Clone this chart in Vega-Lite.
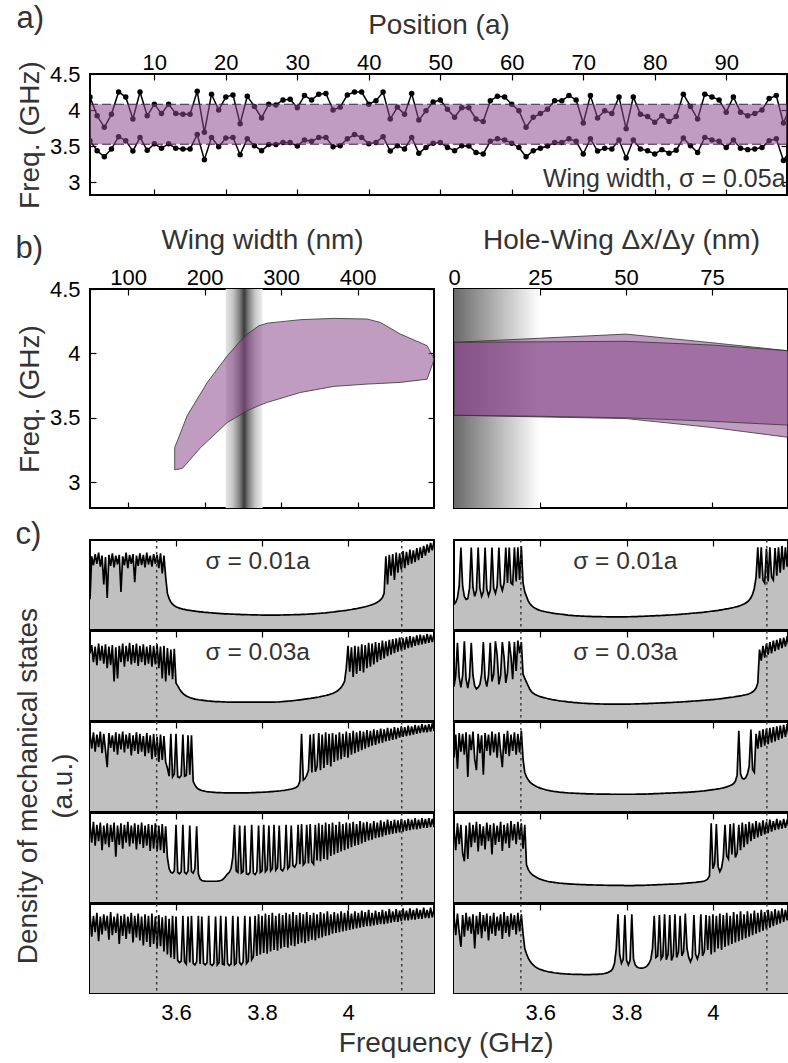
{
"$schema":"https://vega.github.io/schema/vega-lite/v6.json",
"padding":{"left":15,"top":2,"right":0,"bottom":0},
"config":{
"font":"Liberation Sans",
"view":{"stroke":"#000","strokeWidth":2},
"axis":{"domain":false,"grid":false,"tickColor":"#000","tickSize":-6,"tickWidth":1.2,"labelFontSize":22,"labelColor":"#000","labelPadding":6,"labelFlush":false,"labelOverlap":false,"titleFontSize":28,"titleFontWeight":"normal","titleColor":"#333","minExtent":0},
"axisLeft":{"labelPadding":16,"titlePadding":5},
"axisTop":{"labelPadding":6,"titlePadding":12},
"axisBottom":{"labelPadding":15},
"title":{"fontWeight":"normal","color":"#333","fontSize":31}
},
"datasets":{
"pos":[
{"p":1,"u":4.18,"l":3.574},{"p":2,"u":3.92,"l":3.435},{"p":3,"u":3.76,"l":3.35},{"p":4,"u":3.94,"l":3.46},{"p":5,"u":4.25,"l":3.63},{"p":6,"u":4.18,"l":3.574},{"p":7,"u":3.875,"l":3.43},{"p":8,"u":4.25,"l":3.62},{"p":9,"u":3.92,"l":3.44},{"p":10,"u":4.08,"l":3.53},
{"p":11,"u":3.95,"l":3.47},{"p":12,"u":4.08,"l":3.53},{"p":13,"u":3.95,"l":3.47},{"p":14,"u":3.94,"l":3.46},{"p":15,"u":3.94,"l":3.46},{"p":16,"u":4.26,"l":3.66},{"p":17,"u":3.69,"l":3.31},{"p":18,"u":4.22,"l":3.62},{"p":19,"u":4.0,"l":3.49},{"p":20,"u":4.18,"l":3.61},
{"p":21,"u":4.21,"l":3.62},{"p":22,"u":3.81,"l":3.38},{"p":23,"u":4.19,"l":3.6},{"p":24,"u":4.05,"l":3.505},{"p":25,"u":3.89,"l":3.435},{"p":26,"u":4.08,"l":3.52},{"p":27,"u":4.07,"l":3.52},{"p":28,"u":4.14,"l":3.55},{"p":29,"u":4.15,"l":3.55},{"p":30,"u":4.03,"l":3.5},
{"p":31,"u":4.2,"l":3.585},{"p":32,"u":4.14,"l":3.565},{"p":33,"u":4.22,"l":3.62},{"p":34,"u":4.23,"l":3.62},{"p":35,"u":4.0,"l":3.49},{"p":36,"u":4.04,"l":3.505},{"p":37,"u":4.21,"l":3.6},{"p":38,"u":4.25,"l":3.66},{"p":39,"u":4.25,"l":3.62},{"p":40,"u":4.08,"l":3.53},
{"p":41,"u":4.13,"l":3.55},{"p":42,"u":4.25,"l":3.63},{"p":43,"u":3.875,"l":3.43},{"p":44,"u":4.04,"l":3.505},{"p":45,"u":3.94,"l":3.46},{"p":46,"u":4.23,"l":3.62},{"p":47,"u":3.86,"l":3.4},{"p":48,"u":3.99,"l":3.48},{"p":49,"u":4.11,"l":3.54},{"p":50,"u":4.14,"l":3.55},
{"p":51,"u":4.01,"l":3.48},{"p":52,"u":3.9,"l":3.435},{"p":53,"u":4.03,"l":3.505},{"p":54,"u":4.03,"l":3.5},{"p":55,"u":3.875,"l":3.41},{"p":56,"u":3.84,"l":3.39},{"p":57,"u":4.13,"l":3.565},{"p":58,"u":4.19,"l":3.6},{"p":59,"u":4.18,"l":3.585},{"p":60,"u":4.08,"l":3.54},
{"p":61,"u":3.99,"l":3.48},{"p":62,"u":3.76,"l":3.35},{"p":63,"u":3.9,"l":3.435},{"p":64,"u":3.95,"l":3.47},{"p":65,"u":4.01,"l":3.5},{"p":66,"u":4.13,"l":3.55},{"p":67,"u":4.13,"l":3.55},{"p":68,"u":4.2,"l":3.6},{"p":69,"u":4.14,"l":3.565},{"p":70,"u":3.82,"l":3.39},
{"p":71,"u":4.2,"l":3.6},{"p":72,"u":3.89,"l":3.43},{"p":73,"u":3.99,"l":3.47},{"p":74,"u":3.95,"l":3.46},{"p":75,"u":4.18,"l":3.585},{"p":76,"u":3.74,"l":3.335},{"p":77,"u":4.18,"l":3.585},{"p":78,"u":3.94,"l":3.46},{"p":79,"u":3.91,"l":3.435},{"p":80,"u":3.83,"l":3.39},
{"p":81,"u":3.92,"l":3.45},{"p":82,"u":3.84,"l":3.4},{"p":83,"u":3.91,"l":3.44},{"p":84,"u":4.22,"l":3.61},{"p":85,"u":4.05,"l":3.505},{"p":86,"u":3.875,"l":3.41},{"p":87,"u":4.22,"l":3.62},{"p":88,"u":4.18,"l":3.585},{"p":89,"u":4.14,"l":3.565},{"p":90,"u":3.97,"l":3.48},
{"p":91,"u":4.18,"l":3.585},{"p":92,"u":3.97,"l":3.47},{"p":93,"u":3.92,"l":3.45},{"p":94,"u":3.95,"l":3.46},{"p":95,"u":4.0,"l":3.48},{"p":96,"u":4.16,"l":3.574},{"p":97,"u":4.2,"l":3.6},{"p":98,"u":3.82,"l":3.3},{"p":99,"u":4.05,"l":3.45}
],
"wing":[
{"w":160.8,"hi":3.27,"lo":3.096},{"w":170.8,"hi":3.42,"lo":3.107},{"w":177,"hi":3.516,"lo":3.149},{"w":194.8,"hi":3.69,"lo":3.27},{"w":203.5,"hi":3.775,"lo":3.318},{"w":229.7,"hi":3.982,"lo":3.464},{"w":247,"hi":4.098,"lo":3.524},{"w":256,"hi":4.15,"lo":3.556},{"w":271,"hi":4.215,"lo":3.595},{"w":282,"hi":4.235,"lo":3.62},{"w":325.5,"hi":4.262,"lo":3.697},{"w":369,"hi":4.272,"lo":3.744},{"w":412.7,"hi":4.267,"lo":3.762},{"w":430,"hi":4.24,"lo":3.767},{"w":456,"hi":4.15,"lo":3.775},{"w":491,"hi":4.06,"lo":3.8},{"w":500,"hi":3.96,"lo":3.95}
],
"hw":[
{"d":0,"ah":4.086,"al":3.52,"bh":4.086,"bl":3.52},{"d":25,"ah":4.09,"al":3.512,"bh":4.118,"bl":3.507},{"d":50,"ah":4.094,"al":3.5,"bh":4.15,"bl":3.494},{"d":75,"ah":4.065,"al":3.473,"bh":4.083,"bl":3.425},{"d":97.4,"ah":4.02,"al":3.443,"bh":4.02,"bl":3.348}
],
"dos":[
{"f":3.4,"L1":40,"L2":90,"L3":104,"L4":105,"L5":107,"R1":33,"R2":45,"R3":72,"R4":100,"R5":104},
{"f":3.404,"L1":98,"L2":101,"L3":84,"L4":80,"L5":76,"R1":36,"R2":60,"R3":103,"R4":70,"R5":78},
{"f":3.408,"L1":86,"L2":78,"L3":106,"L4":108,"L5":104,"R1":42,"R2":104,"R3":57,"R4":106,"R5":107},
{"f":3.412,"L1":101,"L2":99,"L3":80,"L4":76,"L5":82,"R1":58,"R2":58,"R3":105,"R4":78,"R5":82},
{"f":3.416,"L1":88,"L2":74,"L3":103,"L4":104,"L5":108,"R1":110,"R2":44,"R3":80,"R4":104,"R5":62},
{"f":3.42,"L1":103,"L2":103,"L3":86,"L4":82,"L5":70,"R1":58,"R2":60,"R3":104,"R4":66,"R5":105},
{"f":3.424,"L1":84,"L2":80,"L3":107,"L4":107,"L5":103,"R1":44,"R2":106,"R3":76,"R4":55,"R5":76},
{"f":3.428,"L1":99,"L2":100,"L3":78,"L4":70,"L5":79,"R1":40,"R2":55,"R3":106,"R4":103,"R5":108},
{"f":3.432,"L1":60,"L2":76,"L3":104,"L4":103,"L5":106,"R1":41,"R2":43,"R3":46,"R4":58,"R5":84},
{"f":3.436,"L1":97,"L2":102,"L3":82,"L4":78,"L5":84,"R1":55,"R2":58,"R3":103,"R4":107,"R5":103},
{"f":3.44,"L1":42,"L2":70,"L3":59,"L4":106,"L5":104,"R1":110,"R2":104,"R3":82,"R4":74,"R5":80},
{"f":3.444,"L1":100,"L2":99,"L3":105,"L4":74,"L5":72,"R1":56,"R2":60,"R3":107,"R4":104,"R5":106},
{"f":3.448,"L1":85,"L2":74,"L3":85,"L4":104,"L5":109,"R1":44,"R2":46,"R3":70,"R4":80,"R5":60},
{"f":3.452,"L1":102,"L2":101,"L3":102,"L4":81,"L5":78,"R1":52,"R2":42,"R3":55,"R4":108,"R5":104},
{"f":3.456,"L1":83,"L2":52,"L3":80,"L4":107,"L5":103,"R1":110,"R2":44,"R3":104,"R4":68,"R5":79},
{"f":3.46,"L1":99,"L2":98,"L3":106,"L4":61,"L5":81,"R1":55,"R2":48,"R3":78,"R4":105,"R5":109},
{"f":3.464,"L1":87,"L2":56,"L3":76,"L4":103,"L5":107,"R1":44,"R2":62,"R3":102,"R4":76,"R5":74},
{"f":3.468,"L1":100,"L2":100,"L3":104,"L4":77,"L5":66,"R1":50,"R2":105,"R3":49,"R4":102,"R5":105},
{"f":3.472,"L1":50,"L2":78,"L3":83,"L4":106,"L5":104,"R1":110,"R2":56,"R3":105,"R4":71,"R5":83},
{"f":3.476,"L1":98,"L2":103,"L3":107,"L4":72,"L5":77,"R1":54,"R2":45,"R3":81,"R4":107,"R5":107},
{"f":3.48,"L1":86,"L2":72,"L3":79,"L4":104,"L5":106,"R1":45,"R2":60,"R3":103,"R4":82,"R5":71},
{"f":3.484,"L1":103,"L2":100,"L3":103,"L4":80,"L5":73,"R1":52,"R2":104,"R3":75,"R4":104,"R5":104},
{"f":3.488,"L1":82,"L2":79,"L3":84,"L4":108,"L5":103,"R1":110,"R2":52,"R3":107,"R4":64,"R5":80},
{"f":3.492,"L1":100,"L2":104,"L3":105,"L4":75,"L5":80,"R1":55,"R2":62,"R3":79,"R4":106,"R5":108},
{"f":3.496,"L1":88,"L2":75,"L3":75,"L4":103,"L5":108,"R1":48,"R2":106,"R3":104,"R4":77,"R5":77},
{"f":3.5,"L1":101,"L2":101,"L3":102,"L4":79,"L5":68,"R1":58,"R2":88,"R3":72,"R4":103,"R5":103},
{"f":3.504,"L1":63,"L2":77,"L3":81,"L4":106,"L5":104,"R1":110,"R2":48,"R3":106,"R4":81,"R5":84},
{"f":3.508,"L1":99,"L2":103,"L3":106,"L4":71,"L5":75,"R1":60,"R2":60,"R3":80,"R4":108,"R5":106},
{"f":3.512,"L1":85,"L2":73,"L3":77,"L4":104,"L5":107,"R1":52,"R2":105,"R3":59,"R4":69,"R5":73},
{"f":3.516,"L1":102,"L2":100,"L3":104,"L4":78,"L5":71,"R1":62,"R2":85,"R3":104,"R4":104,"R5":109},
{"f":3.52,"L1":86,"L2":78,"L3":80,"L4":107,"L5":103,"R1":110,"R2":50,"R3":77,"R4":79,"R5":81},
{"f":3.524,"L1":100,"L2":102,"L3":101,"L4":73,"L5":64,"R1":62,"R2":64,"R3":108,"R4":106,"R5":104},
{"f":3.528,"L1":83,"L2":74,"L3":74,"L4":103,"L5":106,"R1":110,"R2":106,"R3":74,"R4":73,"R5":76},
{"f":3.532,"L1":103,"L2":99,"L3":105,"L4":76,"L5":69,"R1":62,"R2":86,"R3":103,"R4":109,"R5":107},
{"f":3.536,"L1":87,"L2":76,"L3":78,"L4":105,"L5":104,"R1":60,"R2":55,"R3":81,"R4":83,"R5":85},
{"f":3.54,"L1":99,"L2":101,"L3":102,"L4":69,"L5":62,"R1":110,"R2":105,"R3":106,"R4":105,"R5":105},
{"f":3.544,"L1":84,"L2":72,"L3":70,"L4":104,"L5":107,"R1":64,"R2":66,"R3":76,"R4":78,"R5":79},
{"f":3.548,"L1":101,"L2":100,"L3":104,"L4":72,"L5":66,"R1":110,"R2":107,"R3":104,"R4":108,"R5":108},
{"f":3.552,"L1":88,"L2":75,"L3":73,"L4":106,"L5":103,"R1":66,"R2":90,"R3":79,"R4":84,"R5":83},
{"f":3.556,"L1":100,"L2":102,"L3":100,"L4":68,"L5":60,"R1":112,"R2":105,"R3":108,"R4":106,"R5":106},
{"f":3.56,"L1":82,"L2":70,"L3":66,"L4":103,"L5":105,"R1":62,"R2":62,"R3":70,"R4":72,"R5":80},
{"f":3.564,"L1":102,"L2":99,"L3":103,"L4":70,"L5":63,"R1":50,"R2":56,"R3":52,"R4":104,"R5":60},
{"f":3.568,"L1":75,"L2":56,"L3":69,"L4":105,"L5":102,"R1":44,"R2":51,"R3":46,"R4":50,"R5":53},
{"f":3.572,"L1":99,"L2":100,"L3":101,"L4":66,"L5":56,"R1":38,"R2":46,"R3":42,"R4":44,"R5":47},
{"f":3.576,"L1":70,"L2":52,"L3":66,"L4":102,"L5":104,"R1":34,"R2":41,"R3":39,"R4":40,"R5":43},
{"f":3.58,"L1":48,"L2":97,"L3":58,"L4":60,"L5":52,"R1":31.5,"R2":38,"R3":37,"R4":37.5,"R5":40},
{"f":3.584,"L1":41,"L2":60,"L3":47,"L4":45,"L5":100,"R1":29.5,"R2":36,"R3":35.3,"R4":35.8,"R5":37.5},
{"f":3.588,"L1":36.5,"L2":95,"L3":104,"L4":40,"L5":48,"R1":28,"R2":34.5,"R3":34,"R4":34.5,"R5":35.5},
{"f":3.592,"L1":33.5,"L2":55,"L3":46,"L4":39,"L5":104,"R1":26.8,"R2":33.3,"R3":32.8,"R4":33,"R5":34},
{"f":3.596,"L1":31.5,"L2":96,"L3":50,"L4":42,"L5":46,"R1":25.8,"R2":32.3,"R3":31.8,"R4":31.8,"R5":32.8},
{"f":3.6,"L1":30,"L2":50,"L3":104,"L4":104,"L5":103,"R1":25,"R2":31.5,"R3":30.9,"R4":30.8,"R5":31.8},
{"f":3.604,"L1":29,"L2":46,"L3":46,"L4":40,"L5":44,"R1":24.3,"R2":30.8,"R3":30.1,"R4":30,"R5":31},
{"f":3.608,"L1":28.2,"L2":42,"L3":45,"L4":38,"L5":41,"R1":23.7,"R2":30.2,"R3":29.4,"R4":29.2,"R5":30.2},
{"f":3.612,"L1":27.5,"L2":38.5,"L3":48,"L4":41,"L5":43,"R1":23.2,"R2":29.6,"R3":28.7,"R4":28.6,"R5":29.6},
{"f":3.616,"L1":26.9,"L2":36,"L3":103,"L4":104,"L5":104,"R1":22.7,"R2":29,"R3":28.1,"R4":28,"R5":29},
{"f":3.62,"L1":26.4,"L2":34,"L3":47,"L4":40,"L5":42,"R1":22.3,"R2":28.5,"R3":27.6,"R4":27.5,"R5":28.5},
{"f":3.624,"L1":25.9,"L2":32.5,"L3":48,"L4":38,"L5":39,"R1":21.9,"R2":28,"R3":27.1,"R4":27.1,"R5":28.1},
{"f":3.628,"L1":25.5,"L2":31.3,"L3":102,"L4":42,"L5":103,"R1":21.5,"R2":27.5,"R3":26.7,"R4":26.7,"R5":27.7},
{"f":3.632,"L1":25.1,"L2":30.3,"L3":49,"L4":103,"L5":41,"R1":21.1,"R2":27.1,"R3":26.3,"R4":26.4,"R5":27.3},
{"f":3.636,"L1":24.7,"L2":29.5,"L3":102,"L4":41,"L5":104,"R1":20.8,"R2":26.7,"R3":26,"R4":26.1,"R5":27},
{"f":3.64,"L1":24.4,"L2":28.8,"L3":40,"L4":39,"L5":40,"R1":20.5,"R2":26.3,"R3":25.7,"R4":25.8,"R5":26.7},
{"f":3.644,"L1":24.1,"L2":28.2,"L3":35,"L4":45,"L5":38,"R1":20.2,"R2":25.9,"R3":25.4,"R4":25.5,"R5":26.4},
{"f":3.648,"L1":23.8,"L2":27.7,"L3":31.5,"L4":102,"L5":42,"R1":19.9,"R2":25.6,"R3":25.2,"R4":25.3,"R5":26.2},
{"f":3.652,"L1":23.5,"L2":27.3,"L3":29.5,"L4":38,"L5":104,"R1":19.6,"R2":25.3,"R3":25,"R4":25.1,"R5":26},
{"f":3.656,"L1":23.2,"L2":27,"L3":28.5,"L4":31,"L5":39,"R1":19.3,"R2":25,"R3":24.8,"R4":24.9,"R5":25.8},
{"f":3.66,"L1":23,"L2":26.7,"L3":27.7,"L4":29,"L5":103,"R1":19,"R2":24.7,"R3":24.6,"R4":24.7,"R5":25.6},
{"f":3.664,"L1":22.7,"L2":26.4,"L3":27.1,"L4":28.5,"L5":40,"R1":18.7,"R2":24.4,"R3":24.4,"R4":24.5,"R5":25.5},
{"f":3.668,"L1":22.5,"L2":26.1,"L3":26.6,"L4":28.2,"L5":38,"R1":18.5,"R2":24.2,"R3":24.3,"R4":24.4,"R5":25.4},
{"f":3.672,"L1":22.3,"L2":25.8,"L3":26.2,"L4":28,"L5":41,"R1":18.3,"R2":24,"R3":24.1,"R4":24.2,"R5":25.3},
{"f":3.676,"L1":22.1,"L2":25.6,"L3":25.9,"L4":28,"L5":104,"R1":18.1,"R2":23.7,"R3":24,"R4":24.1,"R5":25.2},
{"f":3.68,"L1":21.9,"L2":25.4,"L3":25.6,"L4":28,"L5":39,"R1":17.9,"R2":23.5,"R3":23.9,"R4":23.9,"R5":25.1},
{"f":3.684,"L1":21.7,"L2":25.2,"L3":25.4,"L4":28,"L5":37,"R1":17.7,"R2":23.3,"R3":23.8,"R4":23.8,"R5":25.1},
{"f":3.688,"L1":21.5,"L2":25,"L3":25.2,"L4":28,"L5":40,"R1":17.6,"R2":23.1,"R3":23.7,"R4":23.7,"R5":25},
{"f":3.692,"L1":21.3,"L2":24.9,"L3":25,"L4":28,"L5":103,"R1":17.5,"R2":22.9,"R3":23.6,"R4":23.6,"R5":25},
{"f":3.696,"L1":21.1,"L2":24.8,"L3":24.9,"L4":28.2,"L5":38,"R1":17.4,"R2":22.7,"R3":23.5,"R4":23.5,"R5":25},
{"f":3.7,"L1":21,"L2":24.7,"L3":24.8,"L4":28.5,"L5":41,"R1":17.3,"R2":22.6,"R3":23.4,"R4":23.4,"R5":24.9},
{"f":3.704,"L1":20.8,"L2":24.6,"L3":24.7,"L4":29,"L5":104,"R1":17.2,"R2":22.4,"R3":23.3,"R4":23.3,"R5":24.9},
{"f":3.708,"L1":20.7,"L2":24.5,"L3":24.6,"L4":30,"L5":39,"R1":17.1,"R2":22.3,"R3":23.2,"R4":23.2,"R5":24.9},
{"f":3.712,"L1":20.5,"L2":24.4,"L3":24.5,"L4":32,"L5":38,"R1":17,"R2":22.2,"R3":23.1,"R4":23.1,"R5":24.9},
{"f":3.716,"L1":20.4,"L2":24.3,"L3":24.5,"L4":35,"L5":103,"R1":16.9,"R2":22.1,"R3":23,"R4":23,"R5":24.9},
{"f":3.72,"L1":20.3,"L2":24.2,"L3":24.4,"L4":38,"L5":40,"R1":16.8,"R2":22,"R3":23,"R4":23,"R5":25},
{"f":3.724,"L1":20.2,"L2":24.1,"L3":24.4,"L4":40,"L5":37,"R1":16.8,"R2":21.9,"R3":22.9,"R4":22.9,"R5":25},
{"f":3.728,"L1":20.1,"L2":24.1,"L3":24.4,"L4":45,"L5":39,"R1":16.7,"R2":21.8,"R3":22.9,"R4":22.9,"R5":25.1},
{"f":3.732,"L1":20,"L2":24.1,"L3":24.4,"L4":60,"L5":104,"R1":16.7,"R2":21.7,"R3":22.8,"R4":22.8,"R5":25.2},
{"f":3.736,"L1":19.9,"L2":24.1,"L3":24.4,"L4":104,"L5":38,"R1":16.6,"R2":21.7,"R3":22.8,"R4":22.8,"R5":25.4},
{"f":3.74,"L1":19.8,"L2":24.1,"L3":24.4,"L4":42,"L5":40,"R1":16.6,"R2":21.6,"R3":22.7,"R4":22.7,"R5":25.6},
{"f":3.744,"L1":19.7,"L2":24.1,"L3":24.4,"L4":40,"L5":103,"R1":16.5,"R2":21.6,"R3":22.7,"R4":22.7,"R5":25.9},
{"f":3.748,"L1":19.6,"L2":24.1,"L3":24.4,"L4":103,"L5":41,"R1":16.5,"R2":21.5,"R3":22.7,"R4":22.6,"R5":26.3},
{"f":3.752,"L1":19.5,"L2":24.1,"L3":24.4,"L4":39,"L5":38,"R1":16.5,"R2":21.5,"R3":22.7,"R4":22.6,"R5":26.8},
{"f":3.756,"L1":19.4,"L2":24.1,"L3":24.4,"L4":41,"L5":42,"R1":16.4,"R2":21.5,"R3":22.7,"R4":22.5,"R5":27.5},
{"f":3.76,"L1":19.4,"L2":24.1,"L3":24.4,"L4":103,"L5":104,"R1":16.4,"R2":21.4,"R3":22.7,"R4":22.5,"R5":28.5},
{"f":3.764,"L1":19.3,"L2":24.1,"L3":24.5,"L4":38,"L5":40,"R1":16.4,"R2":21.4,"R3":22.6,"R4":22.5,"R5":30},
{"f":3.768,"L1":19.2,"L2":24.1,"L3":24.5,"L4":37,"L5":43,"R1":16.4,"R2":21.4,"R3":22.6,"R4":22.4,"R5":33},
{"f":3.772,"L1":19.2,"L2":24.1,"L3":24.6,"L4":40,"L5":103,"R1":16.4,"R2":21.4,"R3":22.6,"R4":22.4,"R5":40},
{"f":3.776,"L1":19.1,"L2":24.1,"L3":24.7,"L4":104,"L5":45,"R1":16.4,"R2":21.4,"R3":22.6,"R4":22.4,"R5":60},
{"f":3.78,"L1":19.1,"L2":24.1,"L3":24.8,"L4":39,"L5":49,"R1":16.4,"R2":21.4,"R3":22.6,"R4":22.3,"R5":106},
{"f":3.784,"L1":19,"L2":24,"L3":24.9,"L4":37,"L5":104,"R1":16.4,"R2":21.4,"R3":22.6,"R4":22.3,"R5":52},
{"f":3.788,"L1":19,"L2":24,"L3":25,"L4":41,"L5":50,"R1":16.4,"R2":21.4,"R3":22.6,"R4":22.3,"R5":40},
{"f":3.792,"L1":18.9,"L2":24,"L3":25.1,"L4":103,"L5":106,"R1":16.4,"R2":21.4,"R3":22.6,"R4":22.3,"R5":45},
{"f":3.796,"L1":18.9,"L2":24,"L3":25.2,"L4":40,"L5":52,"R1":16.4,"R2":21.4,"R3":22.6,"R4":22.2,"R5":105},
{"f":3.8,"L1":18.8,"L2":24,"L3":25.3,"L4":42,"L5":104,"R1":16.4,"R2":21.4,"R3":22.6,"R4":22.2,"R5":44},
{"f":3.804,"L1":18.8,"L2":24.1,"L3":25.4,"L4":104,"L5":54,"R1":16.5,"R2":21.5,"R3":22.6,"R4":22.2,"R5":38},
{"f":3.808,"L1":18.8,"L2":24.1,"L3":25.5,"L4":41,"L5":107,"R1":16.5,"R2":21.5,"R3":22.6,"R4":22.2,"R5":44},
{"f":3.812,"L1":18.8,"L2":24.1,"L3":25.6,"L4":44,"L5":53,"R1":16.6,"R2":21.6,"R3":22.6,"R4":22.2,"R5":106},
{"f":3.816,"L1":18.8,"L2":24.1,"L3":25.8,"L4":103,"L5":105,"R1":16.6,"R2":21.6,"R3":22.6,"R4":22.2,"R5":46},
{"f":3.82,"L1":18.8,"L2":24.1,"L3":26,"L4":42,"L5":56,"R1":16.7,"R2":21.7,"R3":22.6,"R4":22.3,"R5":38},
{"f":3.824,"L1":18.8,"L2":24.2,"L3":26.2,"L4":45,"L5":108,"R1":16.8,"R2":21.7,"R3":22.7,"R4":22.3,"R5":35},
{"f":3.828,"L1":18.8,"L2":24.2,"L3":26.4,"L4":104,"L5":58,"R1":16.9,"R2":21.8,"R3":22.7,"R4":22.3,"R5":34},
{"f":3.832,"L1":18.8,"L2":24.3,"L3":26.6,"L4":43,"L5":104,"R1":17,"R2":21.9,"R3":22.7,"R4":22.4,"R5":33.5},
{"f":3.836,"L1":18.8,"L2":24.3,"L3":26.8,"L4":46,"L5":57,"R1":17.1,"R2":22,"R3":22.7,"R4":22.4,"R5":33.5},
{"f":3.84,"L1":18.8,"L2":24.4,"L3":27,"L4":103,"L5":107,"R1":17.2,"R2":22,"R3":22.7,"R4":22.5,"R5":34},
{"f":3.844,"L1":18.9,"L2":24.6,"L3":27.3,"L4":44,"L5":60,"R1":17.3,"R2":22.1,"R3":22.8,"R4":22.6,"R5":35},
{"f":3.848,"L1":18.9,"L2":24.8,"L3":27.6,"L4":42,"L5":105,"R1":17.4,"R2":22.2,"R3":22.9,"R4":22.7,"R5":37},
{"f":3.852,"L1":19,"L2":25,"L3":27.9,"L4":47,"L5":62,"R1":17.5,"R2":22.3,"R3":23,"R4":22.8,"R5":40},
{"f":3.856,"L1":19,"L2":25.2,"L3":28.3,"L4":104,"L5":108,"R1":17.6,"R2":22.4,"R3":23.1,"R4":22.9,"R5":45},
{"f":3.86,"L1":19.1,"L2":25.4,"L3":28.7,"L4":45,"L5":61,"R1":17.7,"R2":22.5,"R3":23.2,"R4":23,"R5":60},
{"f":3.864,"L1":19.1,"L2":25.6,"L3":29.1,"L4":48,"L5":106,"R1":17.8,"R2":22.6,"R3":23.3,"R4":23.1,"R5":104},
{"f":3.868,"L1":19.2,"L2":25.8,"L3":29.6,"L4":103,"L5":64,"R1":17.9,"R2":22.7,"R3":23.4,"R4":23.2,"R5":48},
{"f":3.872,"L1":19.2,"L2":26,"L3":30.2,"L4":49,"L5":109,"R1":18,"R2":22.8,"R3":23.5,"R4":23.3,"R5":50},
{"f":3.876,"L1":19.3,"L2":26.3,"L3":31,"L4":47,"L5":63,"R1":18.1,"R2":22.9,"R3":23.6,"R4":23.4,"R5":105},
{"f":3.88,"L1":19.3,"L2":26.6,"L3":32,"L4":52,"L5":105,"R1":18.2,"R2":23,"R3":23.7,"R4":23.5,"R5":46},
{"f":3.884,"L1":19.4,"L2":26.9,"L3":34,"L4":104,"L5":66,"R1":18.3,"R2":23.1,"R3":23.8,"R4":23.6,"R5":50},
{"f":3.888,"L1":19.5,"L2":27.2,"L3":40,"L4":51,"L5":108,"R1":18.4,"R2":23.2,"R3":23.9,"R4":23.7,"R5":106},
{"f":3.892,"L1":19.6,"L2":27.5,"L3":104,"L4":105,"L5":68,"R1":18.6,"R2":23.3,"R3":24,"R4":23.8,"R5":45},
{"f":3.896,"L1":19.7,"L2":27.8,"L3":42,"L4":50,"L5":106,"R1":18.7,"R2":23.4,"R3":24.1,"R4":23.9,"R5":52},
{"f":3.9,"L1":19.8,"L2":28.1,"L3":44,"L4":53,"L5":67,"R1":18.9,"R2":23.5,"R3":24.2,"R4":24,"R5":105},
{"f":3.904,"L1":19.9,"L2":28.4,"L3":48,"L4":104,"L5":109,"R1":19,"R2":23.6,"R3":24.3,"R4":24.1,"R5":44},
{"f":3.908,"L1":20.1,"L2":28.7,"L3":55,"L4":52,"L5":70,"R1":19.2,"R2":23.8,"R3":24.4,"R4":24.2,"R5":50},
{"f":3.912,"L1":20.2,"L2":29,"L3":103,"L4":105,"L5":105,"R1":19.3,"R2":23.9,"R3":24.5,"R4":24.3,"R5":106},
{"f":3.916,"L1":20.4,"L2":29.4,"L3":52,"L4":54,"L5":72,"R1":19.5,"R2":24,"R3":24.6,"R4":24.4,"R5":48},
{"f":3.92,"L1":20.5,"L2":29.8,"L3":104,"L4":51,"L5":108,"R1":19.6,"R2":24.2,"R3":24.7,"R4":24.6,"R5":55},
{"f":3.924,"L1":20.7,"L2":30.2,"L3":53,"L4":104,"L5":71,"R1":19.8,"R2":24.3,"R3":24.8,"R4":24.7,"R5":104},
{"f":3.928,"L1":20.9,"L2":30.6,"L3":60,"L4":56,"L5":106,"R1":20,"R2":24.5,"R3":24.9,"R4":24.9,"R5":50},
{"f":3.932,"L1":21,"L2":31,"L3":105,"L4":106,"L5":74,"R1":20.2,"R2":24.6,"R3":25,"R4":25.1,"R5":56},
{"f":3.936,"L1":21.2,"L2":31.5,"L3":55,"L4":55,"L5":109,"R1":20.4,"R2":24.8,"R3":25.1,"R4":25.3,"R5":107},
{"f":3.94,"L1":21.4,"L2":32,"L3":103,"L4":104,"L5":75,"R1":20.6,"R2":24.9,"R3":25.2,"R4":25.5,"R5":60},
{"f":3.944,"L1":21.6,"L2":32.5,"L3":58,"L4":58,"L5":107,"R1":20.8,"R2":25.1,"R3":25.4,"R4":25.7,"R5":48},
{"f":3.948,"L1":21.8,"L2":33,"L3":106,"L4":107,"L5":77,"R1":21,"R2":25.2,"R3":25.5,"R4":25.9,"R5":42},
{"f":3.952,"L1":22.1,"L2":33.6,"L3":62,"L4":57,"L5":110,"R1":21.2,"R2":25.4,"R3":25.7,"R4":26.1,"R5":48},
{"f":3.956,"L1":22.3,"L2":34.2,"L3":104,"L4":105,"L5":78,"R1":21.4,"R2":25.6,"R3":25.9,"R4":26.3,"R5":105},
{"f":3.96,"L1":22.6,"L2":35,"L3":60,"L4":62,"L5":106,"R1":21.6,"R2":25.7,"R3":26.1,"R4":26.5,"R5":52},
{"f":3.964,"L1":22.9,"L2":35.8,"L3":105,"L4":107,"L5":80,"R1":21.8,"R2":25.9,"R3":26.3,"R4":26.8,"R5":46},
{"f":3.968,"L1":23.1,"L2":36.8,"L3":66,"L4":64,"L5":109,"R1":22,"R2":26,"R3":26.5,"R4":27.1,"R5":54},
{"f":3.972,"L1":23.4,"L2":38,"L3":103,"L4":104,"L5":81,"R1":22.2,"R2":26.2,"R3":26.7,"R4":27.4,"R5":106},
{"f":3.976,"L1":23.7,"L2":39.5,"L3":68,"L4":66,"L5":107,"R1":22.5,"R2":26.4,"R3":27,"R4":27.8,"R5":50},
{"f":3.98,"L1":24,"L2":41.5,"L3":106,"L4":108,"L5":82,"R1":22.7,"R2":26.6,"R3":27.2,"R4":28.3,"R5":56},
{"f":3.984,"L1":24.3,"L2":44,"L3":70,"L4":68,"L5":110,"R1":23,"R2":26.8,"R3":27.5,"R4":29.2,"R5":105},
{"f":3.988,"L1":24.6,"L2":47.5,"L3":104,"L4":105,"L5":83,"R1":23.3,"R2":27,"R3":27.8,"R4":31,"R5":58},
{"f":3.992,"L1":24.9,"L2":52,"L3":73,"L4":70,"L5":108,"R1":23.6,"R2":27.2,"R3":28.1,"R4":35,"R5":104},
{"f":3.996,"L1":25.2,"L2":70,"L3":107,"L4":107,"L5":84,"R1":23.9,"R2":27.4,"R3":28.4,"R4":106,"R5":52},
{"f":4.0,"L1":25.6,"L2":100,"L3":72,"L4":72,"L5":111,"R1":24.2,"R2":27.6,"R3":28.7,"R4":45,"R5":106},
{"f":4.004,"L1":26,"L2":65,"L3":105,"L4":106,"L5":85,"R1":24.5,"R2":27.8,"R3":29,"R4":52,"R5":55},
{"f":4.008,"L1":26.3,"L2":98,"L3":76,"L4":74,"L5":107,"R1":24.8,"R2":28,"R3":29.4,"R4":105,"R5":104},
{"f":4.012,"L1":26.7,"L2":58,"L3":108,"L4":108,"L5":86,"R1":25.1,"R2":28.3,"R3":29.8,"R4":48,"R5":60},
{"f":4.016,"L1":27.1,"L2":100,"L3":78,"L4":76,"L5":110,"R1":25.5,"R2":28.6,"R3":30.2,"R4":41,"R5":107},
{"f":4.02,"L1":27.5,"L2":62,"L3":106,"L4":105,"L5":87,"R1":25.9,"R2":28.9,"R3":30.7,"R4":46,"R5":58},
{"f":4.024,"L1":28,"L2":99,"L3":80,"L4":77,"L5":108,"R1":26.3,"R2":29.2,"R3":31.2,"R4":60,"R5":105},
{"f":4.028,"L1":28.5,"L2":66,"L3":108,"L4":109,"L5":88,"R1":26.7,"R2":29.5,"R3":31.8,"R4":104,"R5":62},
{"f":4.032,"L1":29,"L2":102,"L3":82,"L4":79,"L5":111,"R1":27.1,"R2":29.8,"R3":32.5,"R4":62,"R5":108},
{"f":4.036,"L1":29.5,"L2":64,"L3":107,"L4":107,"L5":89,"R1":27.5,"R2":30.1,"R3":33.3,"R4":58,"R5":64},
{"f":4.04,"L1":30,"L2":101,"L3":84,"L4":81,"L5":109,"R1":28,"R2":30.4,"R3":34.3,"R4":105,"R5":104},
{"f":4.044,"L1":30.6,"L2":70,"L3":109,"L4":108,"L5":90,"R1":28.5,"R2":30.7,"R3":35.5,"R4":64,"R5":66},
{"f":4.048,"L1":31.3,"L2":104,"L3":86,"L4":83,"L5":112,"R1":29,"R2":31,"R3":37,"R4":106,"R5":109},
{"f":4.052,"L1":32,"L2":72,"L3":108,"L4":106,"L5":90,"R1":29.6,"R2":31.4,"R3":40,"R4":60,"R5":68},
{"f":4.056,"L1":32.8,"L2":103,"L3":88,"L4":84,"L5":108,"R1":30.2,"R2":31.8,"R3":48,"R4":66,"R5":106},
{"f":4.06,"L1":33.8,"L2":75,"L3":110,"L4":109,"L5":91,"R1":30.9,"R2":32.2,"R3":108,"R4":104,"R5":70},
{"f":4.064,"L1":34.8,"L2":105,"L3":89,"L4":86,"L5":111,"R1":31.7,"R2":32.6,"R3":50,"R4":70,"R5":110},
{"f":4.068,"L1":36,"L2":78,"L3":109,"L4":107,"L5":92,"R1":32.6,"R2":33,"R3":44,"R4":107,"R5":72},
{"f":4.072,"L1":37.5,"L2":104,"L3":91,"L4":87,"L5":109,"R1":33.7,"R2":33.5,"R3":43,"R4":74,"R5":106},
{"f":4.076,"L1":39.5,"L2":81,"L3":111,"L4":110,"L5":93,"R1":35,"R2":34,"R3":45,"R4":105,"R5":74},
{"f":4.08,"L1":42.5,"L2":107,"L3":92,"L4":88,"L5":112,"R1":36.7,"R2":34.6,"R3":50,"R4":78,"R5":110},
{"f":4.084,"L1":48,"L2":83,"L3":110,"L4":108,"L5":93,"R1":39,"R2":35.5,"R3":60,"R4":108,"R5":76},
{"f":4.088,"L1":98,"L2":106,"L3":94,"L4":90,"L5":110,"R1":42,"R2":36.5,"R3":110,"R4":82,"R5":107},
{"f":4.092,"L1":60,"L2":86,"L3":112,"L4":111,"L5":94,"R1":47,"R2":38,"R3":56,"R4":106,"R5":78},
{"f":4.096,"L1":100,"L2":108,"L3":95,"L4":91,"L5":113,"R1":55,"R2":40,"R3":52,"R4":85,"R5":111},
{"f":4.1,"L1":72,"L2":88,"L3":111,"L4":109,"L5":95,"R1":70,"R2":43,"R3":104,"R4":109,"R5":80},
{"f":4.104,"L1":101,"L2":109,"L3":96,"L4":92,"L5":110,"R1":110,"R2":50,"R3":84,"R4":87,"R5":108},
{"f":4.108,"L1":66,"L2":90,"L3":113,"L4":111,"L5":96,"R1":68,"R2":95,"R3":108,"R4":107,"R5":82},
{"f":4.112,"L1":103,"L2":110,"L3":97,"L4":93,"L5":113,"R1":110,"R2":80,"R3":86,"R4":89,"R5":112},
{"f":4.116,"L1":76,"L2":92,"L3":112,"L4":110,"L5":96,"R1":66,"R2":100,"R3":110,"R4":110,"R5":84},
{"f":4.12,"L1":102,"L2":111,"L3":99,"L4":94,"L5":111,"R1":62,"R2":84,"R3":88,"R4":91,"R5":109},
{"f":4.124,"L1":80,"L2":94,"L3":114,"L4":112,"L5":97,"R1":108,"R2":103,"R3":111,"R4":108,"R5":86},
{"f":4.128,"L1":105,"L2":110,"L3":100,"L4":95,"L5":114,"R1":64,"R2":88,"R3":90,"R4":93,"R5":112},
{"f":4.132,"L1":82,"L2":95,"L3":113,"L4":110,"L5":98,"R1":110,"R2":105,"R3":112,"R4":111,"R5":88},
{"f":4.136,"L1":104,"L2":112,"L3":101,"L4":96,"L5":111,"R1":70,"R2":90,"R3":92,"R4":95,"R5":110},
{"f":4.14,"L1":86,"L2":97,"L3":115,"L4":112,"L5":98,"R1":66,"R2":107,"R3":113,"R4":109,"R5":90},
{"f":4.144,"L1":107,"L2":113,"L3":102,"L4":97,"L5":114,"R1":109,"R2":93,"R3":94,"R4":97,"R5":113},
{"f":4.148,"L1":88,"L2":98,"L3":114,"L4":111,"L5":99,"R1":72,"R2":108,"R3":114,"R4":112,"R5":92},
{"f":4.152,"L1":106,"L2":112,"L3":103,"L4":98,"L5":112,"R1":110,"R2":95,"R3":96,"R4":98,"R5":111},
{"f":4.156,"L1":90,"L2":100,"L3":116,"L4":113,"L5":99,"R1":76,"R2":110,"R3":115,"R4":110,"R5":94},
{"f":4.16,"L1":109,"L2":114,"L3":104,"L4":98,"L5":114,"R1":112,"R2":97,"R3":98,"R4":99,"R5":114},
{"f":4.164,"L1":93,"L2":101,"L3":115,"L4":111,"L5":100,"R1":80,"R2":111,"R3":116,"R4":112,"R5":96},
{"f":4.168,"L1":110,"L2":115,"L3":105,"L4":99,"L5":112,"R1":110,"R2":99,"R3":100,"R4":100,"R5":112},
{"f":4.172,"L1":96,"L2":102,"L3":117,"L4":113,"L5":100,"R1":84,"R2":113,"R3":117,"R4":111,"R5":98},
{"f":4.176,"L1":112,"L2":114,"L3":106,"L4":100,"L5":115,"R1":113,"R2":100,"R3":102,"R4":101,"R5":115},
{"f":4.18,"L1":99,"L2":103,"L3":116,"L4":112,"L5":101,"R1":88,"R2":114,"R3":117,"R4":113,"R5":100},
{"f":4.184,"L1":114,"L2":116,"L3":106,"L4":100,"L5":112,"R1":112,"R2":102,"R3":104,"R4":102,"R5":113},
{"f":4.188,"L1":103,"L2":104,"L3":117,"L4":113,"L5":101,"R1":92,"R2":115,"R3":118,"R4":112,"R5":101},
{"f":4.192,"L1":116,"L2":115,"L3":107,"L4":101,"L5":115,"R1":114,"R2":103,"R3":105,"R4":103,"R5":115},
{"f":4.196,"L1":106,"L2":105,"L3":118,"L4":112,"L5":102,"R1":95,"R2":116,"R3":118,"R4":113,"R5":102},
{"f":4.2,"L1":118,"L2":116,"L3":108,"L4":101,"L5":113,"R1":115,"R2":104,"R3":106,"R4":104,"R5":114}
]
},
"spacing":9,
"vconcat":[
{"spacing":15,"vconcat":[
{"hconcat":[
{"width":697,"height":121,
"title":{"text":"a)","anchor":"start","frame":"bounds","offset":-48,"baseline":"alphabetic"},
"layer":[
{"data":{"name":"pos"},"transform":[{"fold":["u","l"],"as":["s","v"]}],
"mark":{"type":"line","color":"#000","strokeWidth":1.5,"clip":true},
"encoding":{
"x":{"field":"p","type":"quantitative","scale":{"domain":[1,98.5],"nice":false,"zero":false},"axis":{"orient":"top","values":[10,20,30,40,50,60,70,80,90],"title":"Position (a)"}},
"y":{"field":"v","type":"quantitative","scale":{"domain":[2.82,4.5],"nice":false,"zero":false},"axis":{"orient":"left","values":[3,3.5,4,4.5],"format":"~g","title":"Freq. (GHz)"}},
"detail":{"field":"s"}}},
{"data":{"name":"pos"},"transform":[{"fold":["u","l"],"as":["s","v"]}],
"mark":{"type":"circle","color":"#000","size":30,"opacity":1,"clip":true},
"encoding":{
"x":{"field":"p","type":"quantitative","axis":{"orient":"bottom","values":[10,20,30,40,50,60,70,80,90],"labels":false,"title":null}},
"y":{"field":"v","type":"quantitative","axis":{"orient":"right","values":[3,3.5,4,4.5],"labels":false,"title":null}},
"detail":{"field":"s"}}},
{"data":{"values":[{"x0":1,"x1":98.5,"b0":3.525,"b1":4.08}]},
"mark":{"type":"rect","color":"#8a4a8c","opacity":0.55},
"encoding":{"x":{"field":"x0","type":"quantitative","axis":null},"x2":{"field":"x1"},"y":{"field":"b0","type":"quantitative","axis":null},"y2":{"field":"b1"}}},
{"data":{"values":[{"b":3.525},{"b":4.08}]},
"mark":{"type":"rule","color":"#3d2340","strokeDash":[9,4],"strokeWidth":1},
"encoding":{"y":{"field":"b","type":"quantitative","axis":null}}},
{"data":{"values":[{"t":"Wing width, σ = 0.05a","x":98.3,"y":2.925}]},
"mark":{"type":"text","align":"right","baseline":"alphabetic","fontSize":25,"color":"#333"},
"encoding":{"x":{"field":"x","type":"quantitative","axis":null},"y":{"field":"y","type":"quantitative","axis":null},"text":{"field":"t"}}}
],
"resolve":{"axis":{"x":"independent","y":"independent"}}
}
]},
{"hconcat":[
{"width":344,"height":219,
"layer":[
{"data":{"values":[{"a":227.5,"b":275.8,"y0":2.8,"y1":4.5}]},
"mark":{"type":"rect","color":{"gradient":"linear","x1":0,"y1":0,"x2":1,"y2":0,"stops":[{"offset":0,"color":"#e6e6e6"},{"offset":0.2,"color":"#c4c4c4"},{"offset":0.38,"color":"#808080"},{"offset":0.5,"color":"#3a3a3a"},{"offset":0.62,"color":"#808080"},{"offset":0.8,"color":"#c8c8c8"},{"offset":1,"color":"#f0f0f0"}]}},
"encoding":{
"x":{"field":"a","type":"quantitative","scale":{"domain":[50,500],"nice":false,"zero":false},"axis":{"orient":"top","values":[100,200,300,400],"title":"Wing width (nm)"}},
"x2":{"field":"b"},
"y":{"field":"y0","type":"quantitative","scale":{"domain":[2.8,4.5],"nice":false,"zero":false},"axis":{"orient":"left","values":[3,3.5,4,4.5],"format":"~g","title":"Freq. (GHz)"}},
"y2":{"field":"y1"}}},
{"data":{"name":"wing"},
"mark":{"type":"area","fill":"#8a4a8c","fillOpacity":0.55,"stroke":"#333","strokeWidth":0.8},
"encoding":{
"x":{"field":"w","type":"quantitative","axis":{"orient":"bottom","values":[100,200,300,400],"labels":false,"title":null}},
"y":{"field":"hi","type":"quantitative","axis":{"orient":"right","values":[3,3.5,4,4.5],"labels":false,"title":null}},
"y2":{"field":"lo"}}}
],
"resolve":{"axis":{"x":"independent","y":"independent"}}
},
{"width":334,"height":219,
"layer":[
{"data":{"values":[{"a":0,"b":25,"y0":2.8,"y1":4.5}]},
"mark":{"type":"rect","color":{"gradient":"linear","x1":0,"y1":0,"x2":1,"y2":0,"stops":[{"offset":0,"color":"#6a6a6a"},{"offset":1,"color":"#ffffff"}]}},
"encoding":{
"x":{"field":"a","type":"quantitative","scale":{"domain":[0,97.1],"nice":false,"zero":false},"axis":{"orient":"top","values":[0,25,50,75],"title":"Hole-Wing Δx/Δy (nm)"}},
"x2":{"field":"b"},
"y":{"field":"y0","type":"quantitative","scale":{"domain":[2.8,4.5],"nice":false,"zero":false},"axis":{"orient":"left","values":[3,3.5,4,4.5],"labels":false,"title":null}},
"y2":{"field":"y1"}}},
{"data":{"name":"hw"},
"mark":{"type":"area","fill":"#8a4a8c","fillOpacity":0.55,"stroke":"#333","strokeWidth":0.8,"clip":true},
"encoding":{
"x":{"field":"d","type":"quantitative","axis":{"orient":"bottom","values":[0,25,50,75],"labels":false,"title":null}},
"y":{"field":"bh","type":"quantitative","axis":null},
"y2":{"field":"bl"}}},
{"data":{"name":"hw"},
"mark":{"type":"area","fill":"#8a4a8c","fillOpacity":0.55,"stroke":"#333","strokeWidth":0.8,"clip":true},
"encoding":{
"x":{"field":"d","type":"quantitative","axis":null},
"y":{"field":"ah","type":"quantitative","axis":null},
"y2":{"field":"al"}}}
],
"resolve":{"axis":{"x":"independent","y":"independent"}}
}
],
"spacing":9,
"title":{"text":"b)","anchor":"start","frame":"bounds","offset":-64,"baseline":"alphabetic"}
}
]},
{"vconcat":[
{"hconcat":[
{"vconcat":[
{"width":344,"height":89,"data":{"name":"dos"},
"layer":[
{"mark":{"type":"area","color":"#c0c0c0","clip":true},"encoding":{"x":{"field":"f","type":"quantitative","scale":{"domain":[3.4,4.2],"nice":false,"zero":false},"axis":{"orient":"bottom","values":[3.6,3.8,4],"labels":false,"title":null}},"y":{"field":"L1","type":"quantitative","scale":{"domain":[0,120],"nice":false},"axis":{"orient":"left","values":[20],"labels":false,"title":null}}}},
{"mark":{"type":"line","color":"#000","strokeWidth":1.7,"clip":true},"encoding":{"x":{"field":"f","type":"quantitative","axis":{"orient":"top","values":[3.6,3.8,4],"labels":false,"title":null}},"y":{"field":"L1","type":"quantitative","axis":{"orient":"right","values":[20],"labels":false,"title":null}}}},
{"data":{"values":[{"d":3.555},{"d":4.125}]},"mark":{"type":"rule","color":"#333","strokeDash":[2.5,3.5],"strokeWidth":1.4},"encoding":{"x":{"field":"d","type":"quantitative","axis":null}}},
{"data":{"values":[{"t":"σ = 0.01a","x":3.79,"y":91}]},"mark":{"type":"text","fontSize":24.5,"color":"#333","baseline":"middle"},"encoding":{"x":{"field":"x","type":"quantitative","axis":null},"y":{"field":"y","type":"quantitative","axis":null},"text":{"field":"t"}}}
],"resolve":{"axis":{"x":"independent","y":"independent"}}},
{"width":344,"height":89,"data":{"name":"dos"},
"layer":[
{"mark":{"type":"area","color":"#c0c0c0","clip":true},"encoding":{"x":{"field":"f","type":"quantitative","scale":{"domain":[3.4,4.2],"nice":false,"zero":false},"axis":{"orient":"bottom","values":[3.6,3.8,4],"labels":false,"title":null}},"y":{"field":"L2","type":"quantitative","scale":{"domain":[0,120],"nice":false},"axis":{"orient":"left","values":[20],"labels":false,"title":null}}}},
{"mark":{"type":"line","color":"#000","strokeWidth":1.7,"clip":true},"encoding":{"x":{"field":"f","type":"quantitative","axis":{"orient":"top","values":[3.6,3.8,4],"labels":false,"title":null}},"y":{"field":"L2","type":"quantitative","axis":{"orient":"right","values":[20],"labels":false,"title":null}}}},
{"data":{"values":[{"d":3.555},{"d":4.125}]},"mark":{"type":"rule","color":"#333","strokeDash":[2.5,3.5],"strokeWidth":1.4},"encoding":{"x":{"field":"d","type":"quantitative","axis":null}}},
{"data":{"values":[{"t":"σ = 0.03a","x":3.79,"y":91}]},"mark":{"type":"text","fontSize":24.5,"color":"#333","baseline":"middle"},"encoding":{"x":{"field":"x","type":"quantitative","axis":null},"y":{"field":"y","type":"quantitative","axis":null},"text":{"field":"t"}}}
],"resolve":{"axis":{"x":"independent","y":"independent"}}},
{"width":344,"height":89,"data":{"name":"dos"},
"layer":[
{"mark":{"type":"area","color":"#c0c0c0","clip":true},"encoding":{"x":{"field":"f","type":"quantitative","scale":{"domain":[3.4,4.2],"nice":false,"zero":false},"axis":{"orient":"bottom","values":[3.6,3.8,4],"labels":false,"title":null}},"y":{"field":"L3","type":"quantitative","scale":{"domain":[0,120],"nice":false},"axis":{"orient":"left","values":[20],"labels":false,"title":null}}}},
{"mark":{"type":"line","color":"#000","strokeWidth":1.7,"clip":true},"encoding":{"x":{"field":"f","type":"quantitative","axis":{"orient":"top","values":[3.6,3.8,4],"labels":false,"title":null}},"y":{"field":"L3","type":"quantitative","axis":{"orient":"right","values":[20],"labels":false,"title":null}}}},
{"data":{"values":[{"d":3.555},{"d":4.125}]},"mark":{"type":"rule","color":"#333","strokeDash":[2.5,3.5],"strokeWidth":1.4},"encoding":{"x":{"field":"d","type":"quantitative","axis":null}}}
],"resolve":{"axis":{"x":"independent","y":"independent"}}},
{"width":344,"height":89,"data":{"name":"dos"},
"layer":[
{"mark":{"type":"area","color":"#c0c0c0","clip":true},"encoding":{"x":{"field":"f","type":"quantitative","scale":{"domain":[3.4,4.2],"nice":false,"zero":false},"axis":{"orient":"bottom","values":[3.6,3.8,4],"labels":false,"title":null}},"y":{"field":"L4","type":"quantitative","scale":{"domain":[0,120],"nice":false},"axis":{"orient":"left","values":[20],"labels":false,"title":null}}}},
{"mark":{"type":"line","color":"#000","strokeWidth":1.7,"clip":true},"encoding":{"x":{"field":"f","type":"quantitative","axis":{"orient":"top","values":[3.6,3.8,4],"labels":false,"title":null}},"y":{"field":"L4","type":"quantitative","axis":{"orient":"right","values":[20],"labels":false,"title":null}}}},
{"data":{"values":[{"d":3.555},{"d":4.125}]},"mark":{"type":"rule","color":"#333","strokeDash":[2.5,3.5],"strokeWidth":1.4},"encoding":{"x":{"field":"d","type":"quantitative","axis":null}}}
],"resolve":{"axis":{"x":"independent","y":"independent"}}},
{"width":344,"height":89,"data":{"name":"dos"},
"layer":[
{"mark":{"type":"area","color":"#c0c0c0","clip":true},"encoding":{"x":{"field":"f","type":"quantitative","scale":{"domain":[3.4,4.2],"nice":false,"zero":false},"axis":{"orient":"bottom","values":[3.6,3.8,4],"format":"~g","title":null}},"y":{"field":"L5","type":"quantitative","scale":{"domain":[0,120],"nice":false},"axis":{"orient":"left","values":[20],"labels":false,"title":null}}}},
{"mark":{"type":"line","color":"#000","strokeWidth":1.7,"clip":true},"encoding":{"x":{"field":"f","type":"quantitative","axis":{"orient":"top","values":[3.6,3.8,4],"labels":false,"title":null}},"y":{"field":"L5","type":"quantitative","axis":{"orient":"right","values":[20],"labels":false,"title":null}}}},
{"data":{"values":[{"d":3.555},{"d":4.125}]},"mark":{"type":"rule","color":"#333","strokeDash":[2.5,3.5],"strokeWidth":1.4},"encoding":{"x":{"field":"d","type":"quantitative","axis":null}}}
],"resolve":{"axis":{"x":"independent","y":"independent"}}}
],"spacing":-2.2,
"title":{"text":["Density of mechanical states","(a.u.)"],"orient":"left","anchor":"middle","frame":"bounds","fontSize":28,"lineHeight":35,"offset":10,"dx":-5}},
{"vconcat":[
{"width":334,"height":89,"data":{"name":"dos"},
"layer":[
{"mark":{"type":"area","color":"#c0c0c0","clip":true},"encoding":{"x":{"field":"f","type":"quantitative","scale":{"domain":[3.4,4.174],"nice":false,"zero":false},"axis":{"orient":"bottom","values":[3.6,3.8,4],"labels":false,"title":null}},"y":{"field":"R1","type":"quantitative","scale":{"domain":[0,120],"nice":false},"axis":{"orient":"left","values":[20],"labels":false,"title":null}}}},
{"mark":{"type":"line","color":"#000","strokeWidth":1.7,"clip":true},"encoding":{"x":{"field":"f","type":"quantitative","axis":{"orient":"top","values":[3.6,3.8,4],"labels":false,"title":null}},"y":{"field":"R1","type":"quantitative","axis":null}}},
{"data":{"values":[{"d":3.555},{"d":4.125}]},"mark":{"type":"rule","color":"#333","strokeDash":[2.5,3.5],"strokeWidth":1.4},"encoding":{"x":{"field":"d","type":"quantitative","axis":null}}},
{"data":{"values":[{"t":"σ = 0.01a","x":3.797,"y":91}]},"mark":{"type":"text","fontSize":24.5,"color":"#333","baseline":"middle"},"encoding":{"x":{"field":"x","type":"quantitative","axis":null},"y":{"field":"y","type":"quantitative","axis":null},"text":{"field":"t"}}}
],"resolve":{"axis":{"x":"independent","y":"independent"}}},
{"width":334,"height":89,"data":{"name":"dos"},
"layer":[
{"mark":{"type":"area","color":"#c0c0c0","clip":true},"encoding":{"x":{"field":"f","type":"quantitative","scale":{"domain":[3.4,4.174],"nice":false,"zero":false},"axis":{"orient":"bottom","values":[3.6,3.8,4],"labels":false,"title":null}},"y":{"field":"R2","type":"quantitative","scale":{"domain":[0,120],"nice":false},"axis":{"orient":"left","values":[20],"labels":false,"title":null}}}},
{"mark":{"type":"line","color":"#000","strokeWidth":1.7,"clip":true},"encoding":{"x":{"field":"f","type":"quantitative","axis":{"orient":"top","values":[3.6,3.8,4],"labels":false,"title":null}},"y":{"field":"R2","type":"quantitative","axis":null}}},
{"data":{"values":[{"d":3.555},{"d":4.125}]},"mark":{"type":"rule","color":"#333","strokeDash":[2.5,3.5],"strokeWidth":1.4},"encoding":{"x":{"field":"d","type":"quantitative","axis":null}}},
{"data":{"values":[{"t":"σ = 0.03a","x":3.797,"y":91}]},"mark":{"type":"text","fontSize":24.5,"color":"#333","baseline":"middle"},"encoding":{"x":{"field":"x","type":"quantitative","axis":null},"y":{"field":"y","type":"quantitative","axis":null},"text":{"field":"t"}}}
],"resolve":{"axis":{"x":"independent","y":"independent"}}},
{"width":334,"height":89,"data":{"name":"dos"},
"layer":[
{"mark":{"type":"area","color":"#c0c0c0","clip":true},"encoding":{"x":{"field":"f","type":"quantitative","scale":{"domain":[3.4,4.174],"nice":false,"zero":false},"axis":{"orient":"bottom","values":[3.6,3.8,4],"labels":false,"title":null}},"y":{"field":"R3","type":"quantitative","scale":{"domain":[0,120],"nice":false},"axis":{"orient":"left","values":[20],"labels":false,"title":null}}}},
{"mark":{"type":"line","color":"#000","strokeWidth":1.7,"clip":true},"encoding":{"x":{"field":"f","type":"quantitative","axis":{"orient":"top","values":[3.6,3.8,4],"labels":false,"title":null}},"y":{"field":"R3","type":"quantitative","axis":null}}},
{"data":{"values":[{"d":3.555},{"d":4.125}]},"mark":{"type":"rule","color":"#333","strokeDash":[2.5,3.5],"strokeWidth":1.4},"encoding":{"x":{"field":"d","type":"quantitative","axis":null}}}
],"resolve":{"axis":{"x":"independent","y":"independent"}}},
{"width":334,"height":89,"data":{"name":"dos"},
"layer":[
{"mark":{"type":"area","color":"#c0c0c0","clip":true},"encoding":{"x":{"field":"f","type":"quantitative","scale":{"domain":[3.4,4.174],"nice":false,"zero":false},"axis":{"orient":"bottom","values":[3.6,3.8,4],"labels":false,"title":null}},"y":{"field":"R4","type":"quantitative","scale":{"domain":[0,120],"nice":false},"axis":{"orient":"left","values":[20],"labels":false,"title":null}}}},
{"mark":{"type":"line","color":"#000","strokeWidth":1.7,"clip":true},"encoding":{"x":{"field":"f","type":"quantitative","axis":{"orient":"top","values":[3.6,3.8,4],"labels":false,"title":null}},"y":{"field":"R4","type":"quantitative","axis":null}}},
{"data":{"values":[{"d":3.555},{"d":4.125}]},"mark":{"type":"rule","color":"#333","strokeDash":[2.5,3.5],"strokeWidth":1.4},"encoding":{"x":{"field":"d","type":"quantitative","axis":null}}}
],"resolve":{"axis":{"x":"independent","y":"independent"}}},
{"width":334,"height":89,"data":{"name":"dos"},
"layer":[
{"mark":{"type":"area","color":"#c0c0c0","clip":true},"encoding":{"x":{"field":"f","type":"quantitative","scale":{"domain":[3.4,4.174],"nice":false,"zero":false},"axis":{"orient":"bottom","values":[3.6,3.8,4],"format":"~g","title":null}},"y":{"field":"R5","type":"quantitative","scale":{"domain":[0,120],"nice":false},"axis":{"orient":"left","values":[20],"labels":false,"title":null}}}},
{"mark":{"type":"line","color":"#000","strokeWidth":1.7,"clip":true},"encoding":{"x":{"field":"f","type":"quantitative","axis":{"orient":"top","values":[3.6,3.8,4],"labels":false,"title":null}},"y":{"field":"R5","type":"quantitative","axis":null}}},
{"data":{"values":[{"d":3.555},{"d":4.125}]},"mark":{"type":"rule","color":"#333","strokeDash":[2.5,3.5],"strokeWidth":1.4},"encoding":{"x":{"field":"d","type":"quantitative","axis":null}}}
],"resolve":{"axis":{"x":"independent","y":"independent"}}}
],"spacing":-2.2}
],
"spacing":16,
"title":{"text":"Frequency (GHz)","orient":"bottom","anchor":"middle","frame":"bounds","fontSize":28,"offset":6,"dx":44}
}
],
"title":{"text":"c)","anchor":"start","frame":"bounds","offset":-37,"baseline":"alphabetic"}
}
]
}
